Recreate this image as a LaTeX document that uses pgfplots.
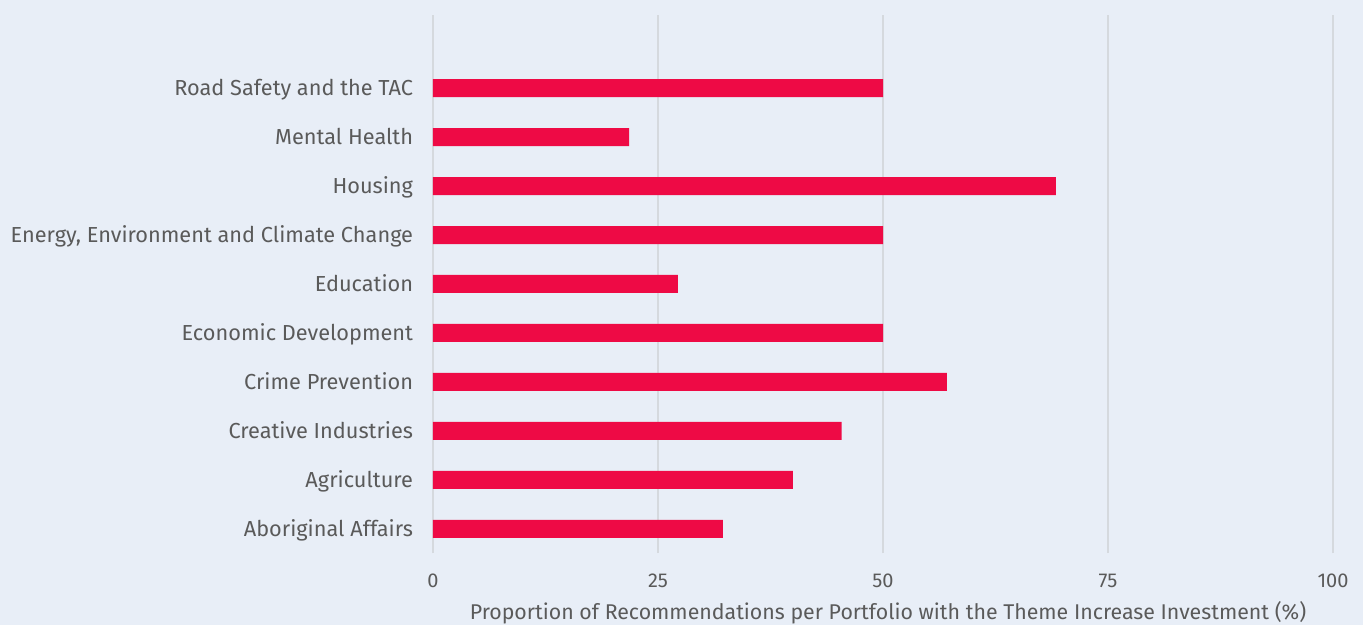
\documentclass[border=0pt]{standalone}
\usepackage{fontspec}
\setmainfont{Fira Sans}
\usepackage{pgfplots}
\pgfplotsset{compat=1.18}
\definecolor{bg}{HTML}{E8EEF7}
\definecolor{barred}{HTML}{EE0A45}
\definecolor{gridgray}{HTML}{D5D9DE}
\definecolor{txt}{HTML}{5A5A5A}
\newlength\px
\setlength\px{0.75pt}
\begin{document}
\begin{tikzpicture}
  \fill[bg] (-433\px,-72\px) rectangle (930\px,553\px);
  \begin{axis}[
      scale only axis,
      width=900\px,
      height=538\px,
      xbar,
      bar width=18\px,
      xmin=0, xmax=100,
      ymin=-0.49, ymax=10.49,
      axis line style={draw=none},
      tick style={draw=none},
      xtick={0,25,50,75,100},
      xmajorgrids,
      grid style={gridgray, line width=1.5\px},
      ytick={0,...,9},
      yticklabels={Aboriginal Affairs, Agriculture, Creative Industries,
        Crime Prevention, Economic Development, Education,
        {Energy, Environment and Climate Change}, Housing,
        Mental Health, Road Safety and the TAC},
      /pgf/number format/assume math mode=true,
      yticklabel style={font=\fontsize{16.3}{19}\selectfont, color=txt,
        anchor=base east, inner sep=0pt, xshift=-14\px, yshift=-7.5\px},
      xticklabel style={font=\fontsize{15}{18}\selectfont, color=txt,
        anchor=base, inner sep=0pt, yshift=-34\px},
      xlabel={Proportion of Recommendations per Portfolio with the Theme Increase Investment (\%)},
      xlabel style={font=\fontsize{16}{18}\selectfont, color=txt,
        at={(axis description cs:0.5,0)}, anchor=base, inner sep=0pt,
        yshift=-66\px, xshift=5\px},
    ]
    \addplot[fill=barred, draw=none] coordinates {
      (32.2,0) (40,1) (45.4,2) (57.1,3) (50,4)
      (27.2,5) (50,6) (69.2,7) (21.8,8) (50,9)
    };
  \end{axis}
  \pgfresetboundingbox
  \useasboundingbox (-433\px,-72\px) rectangle (930\px,553\px);
\end{tikzpicture}
\end{document}
